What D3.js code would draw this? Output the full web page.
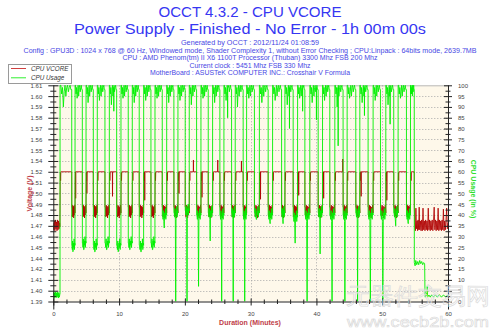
<!DOCTYPE html>
<html>
<head>
<meta charset="utf-8">
<script src="https://cdn.jsdelivr.net/npm/d3@7/dist/d3.min.js"></script>
<style>
  body { margin: 0; background: #ffffff; }
  svg { display: block; }
  text { font-family: "Liberation Sans", Arial, sans-serif; }
</style>
</head>
<body>
<svg id="chart" width="500" height="333"></svg>
<script>
// ---------------- data ----------------
const titleLines = ["OCCT 4.3.2 - CPU VCORE", "Power Supply - Finished - No Error - 1h 00m 00s"];
const infoLines = [
  "Generated by OCCT : 2012/11/24 01:08:59",
  "Config : GPU3D : 1024 x 768 @ 60 Hz, Windowed mode, Shader Complexity 1, without Error Checking ; CPU:Linpack : 64bits mode, 2639.7MB",
  "CPU : AMD Phenom(tm) II X6 1100T Processor (Thuban) 3300 Mhz FSB 200 Mhz",
  "Current clock : 5451 Mhz FSB 330 Mhz",
  "MotherBoard : ASUSTeK COMPUTER INC.: Crosshair V Formula"
];
const seriesNames = ["CPU VCORE", "CPU Usage"];

// voltage axis: 21 evenly spaced ticks between 1.39 V and 1.61 V
const voltTicks = [1.390, 1.401, 1.412, 1.423, 1.434, 1.445, 1.456, 1.467, 1.478, 1.489, 1.500,
                   1.511, 1.522, 1.533, 1.544, 1.555, 1.566, 1.577, 1.588, 1.599, 1.610];
const voltTickLabels = ["1.39", "1.40", "1.41", "1.42", "1.44", "1.45", "1.46", "1.47", "1.48", "1.49", "1.50",
                        "1.51", "1.52", "1.54", "1.55", "1.56", "1.57", "1.58", "1.59", "1.60", "1.61"];
const usageTicks = [0, 5, 10, 15, 20, 25, 30, 35, 40, 45, 50, 55, 60, 65, 70, 75, 80, 85, 90, 95, 100];
const minuteTicks = [0, 10, 20, 30, 40, 50, 60];
const minuteMinorTicks = [2, 4, 6, 8, 12, 14, 16, 18, 22, 24, 26, 28, 32, 34, 36, 38, 42, 44, 46, 48, 52, 54, 56, 58];

// Linpack passes: minute at which full load starts / ends
const cycleRise = [1.02, 3.30, 4.97, 6.68, 8.51, 10.28, 12.00, 13.73, 15.45, 17.23, 18.94, 20.66, 22.44, 24.21, 25.93,
                   27.65, 29.38, 31.32, 33.33, 35.20, 37.13, 38.99, 40.92, 42.79, 44.66, 46.59, 48.61, 50.54, 52.41, 54.29];
const cycleFall = [2.80, 4.41, 6.08, 7.85, 9.63, 11.39, 13.06, 14.84, 16.56, 18.33, 20.05, 21.78, 23.55, 25.32, 27.10,
                   28.86, 30.57, 32.66, 34.70, 36.46, 38.24, 40.26, 42.03, 44.05, 45.98, 47.85, 49.73, 51.75, 53.68, 54.87];
// CPU usage (%) between passes, and the lowest reading of each pause
const pauseUsage = [26, 27, 26, 27, 26, 27, 26, 27, 40, 41, 42, 40, 41, 40, 41, 40, 41, 40, 41, 39, 40, 41, 40, 40, 41, 40, 40, 41, 40];
const pauseUsageMin = [24, 24, 23, 24, 24, 24, 23, 24, 34, 0, 0, 7, 28, 0, 0, 0, 38, 36, 36, 27, 0, 22, 0, 0, 0, 0, 0, 35, 36];
// lowest usage seen while a pass is running
const passUsageDip = [90, 94, 92, 93, 91, 94, 92, 93, 94, 92, 93, 91, 94, 92, 93, 90, 94, 92, 93, 91, 94, 92, 93, 90, 94, 92, 93, 91, 94, 96];
// usage readings during a pass and during a pause (offsets from the pause level)
const passUsageReadings = [100, 96, 99, 97, 100, 95, 99, 100, 97, 99, 100, 98];
const pauseUsageOffsets = [0, -2, 2, -3, 1, -1, 3, -2, 1];
// isolated usage drops during passes [minute, %]
const usageDrops = [[9.2, 88], [26.5, 85], [35.9, 80], [37.9, 88], [40.0, 84], [43.3, 72], [47.3, 86], [51.2, 82]];
// usage at idle before the test and after it
const usageStart = [[0, 2], [0.06, 4.5], [0.12, 1.5], [0.2, 4], [0.28, 2], [0.36, 4.5], [0.44, 1.8], [0.52, 4], [0.6, 2.2],
                    [0.68, 4.4], [0.76, 1.6], [0.84, 4], [0.92, 2], [1.0, 3.5]];
const usageEnd = [[54.88, 18], [55.0, 16.5], [55.1, 19], [55.25, 17], [55.4, 18.5], [55.55, 17], [55.7, 19], [55.85, 17.5],
                  [56.0, 18.5], [56.15, 17], [56.3, 18], [56.45, 17.5], [56.5, 4], [56.55, 2], [56.65, 5], [56.75, 2.5],
                  [56.85, 7], [56.9, 2], [57.1, 3], [57.3, 2], [57.5, 3], [57.8, 2.2], [58.1, 3], [58.4, 2], [58.7, 3.2],
                  [59.0, 2], [59.3, 3], [59.6, 2.2], [60, 2.8]];

// VCORE (V)
const vcorePass = 1.522;
const vcorePassEntry = [1.512, 1.521, 1.513, 1.522];
const vcorePauseReadings = [1.486, 1.476, 1.488, 1.477, 1.487, 1.475, 1.486, 1.478, 1.488];
const vcoreSpikes = [[21.3, 1.534], [25.0, 1.534], [28.6, 1.533], [44.0, 1.535]];
const vcoreDips = [[3.4, 1.495], [5.1, 1.500], [9.0, 1.497], [13.9, 1.493], [19.1, 1.500], [22.6, 1.496], [31.5, 1.494],
                   [37.3, 1.498], [41.1, 1.495], [46.8, 1.497], [50.7, 1.493]];
const vcoreStart = [[0, 1.470], [0.08, 1.463], [0.16, 1.472], [0.24, 1.462], [0.32, 1.473], [0.4, 1.464], [0.48, 1.471],
                    [0.56, 1.462], [0.64, 1.473], [0.72, 1.463], [0.8, 1.472], [0.88, 1.464], [0.96, 1.470], [1.0, 1.466]];
const vcoreEnd = [[54.88, 1.486], [54.95, 1.470], [55.05, 1.462], [55.12, 1.485], [55.2, 1.464], [55.3, 1.472], [55.38, 1.462],
                  [55.45, 1.473], [55.55, 1.463], [55.62, 1.486], [55.7, 1.463], [55.8, 1.472], [55.9, 1.462], [56.0, 1.473],
                  [56.1, 1.462], [56.2, 1.485], [56.3, 1.463], [56.4, 1.472], [56.5, 1.462], [56.6, 1.473], [56.7, 1.463],
                  [56.8, 1.472], [56.9, 1.462], [57.0, 1.485], [57.1, 1.463], [57.2, 1.473], [57.3, 1.462], [57.4, 1.472],
                  [57.5, 1.463], [57.6, 1.473], [57.7, 1.462], [57.8, 1.472], [57.9, 1.486], [58.0, 1.463], [58.1, 1.473],
                  [58.2, 1.462], [58.3, 1.472], [58.4, 1.463], [58.5, 1.485], [58.6, 1.462], [58.7, 1.473], [58.8, 1.463],
                  [58.9, 1.472], [59.0, 1.462], [59.1, 1.473], [59.2, 1.463], [59.3, 1.484], [59.4, 1.462], [59.5, 1.472],
                  [59.6, 1.463], [59.7, 1.473], [59.8, 1.485], [59.9, 1.464], [60, 1.470]];

// ---------------- series assembly ----------------
function spread(t0, t1, vals) {
  return vals.map((v, k) => [t0 + (t1 - t0) * (k + 1) / (vals.length + 1), v]);
}
// a single short excursion away from a steady level
function excursion(t, v, base) {
  return [[t - 0.02, base], [t, v], [t + 0.02, base]];
}

function buildUsage() {
  let pts = usageStart.slice();
  cycleRise.forEach((r, i) => {
    const f = cycleFall[i];
    const prevLevel = i === 0 ? 3.5 : pauseUsage[i - 1];
    pts.push([r, prevLevel], [r + 0.01, 100]);
    const readings = passUsageReadings.slice();
    readings.splice(3, 0, passUsageDip[i]);
    pts = pts.concat(spread(r, f, readings));
    pts.push([f, 98]);
    if (i < pauseUsage.length) {
      const next = cycleRise[i + 1];
      const lvl = pauseUsage[i];
      const vals = pauseUsageOffsets.map(o => lvl + o);
      vals.splice(4, 0, pauseUsageMin[i]);
      pts.push([f + 0.01, lvl]);
      pts = pts.concat(spread(f, next, vals));
    }
  });
  // drop the regular readings that sit right where an isolated drop is drawn
  pts = pts.filter(p => !usageDrops.some(d => Math.abs(p[0] - d[0]) < 0.025));
  usageDrops.forEach(d => { pts = pts.concat(excursion(d[0], d[1], 99)); });
  pts = pts.concat(usageEnd);
  return pts.sort((a, b) => a[0] - b[0]);
}

function buildVcore() {
  let pts = vcoreStart.slice();
  cycleRise.forEach((r, i) => {
    const f = cycleFall[i];
    pts.push([r, 1.480]);
    pts = pts.concat(spread(r, r + 0.15, vcorePassEntry));
    pts.push([r + 0.16, vcorePass], [f, vcorePass]);
    if (i < pauseUsage.length) {
      const next = cycleRise[i + 1];
      pts.push([f + 0.01, 1.486]);
      pts = pts.concat(spread(f, next, vcorePauseReadings));
      pts.push([next - 0.005, 1.482]);
    }
  });
  vcoreSpikes.concat(vcoreDips).forEach(d => { pts = pts.concat(excursion(d[0], d[1], vcorePass)); });
  pts = pts.concat(vcoreEnd);
  return pts.sort((a, b) => a[0] - b[0]);
}

const usageSeries = buildUsage();
const vcoreSeries = buildVcore();

// ---------------- layout ----------------
const svg = d3.select("#chart");
const plot = { left: 53.3, right: 448, top: 85.3, bottom: 301.5 };

const x = d3.scaleLinear().domain([0, 60]).range([plot.left, plot.right]);
const yV = d3.scaleLinear().domain([1.39, 1.61]).range([plot.bottom, plot.top]);
const yU = d3.scaleLinear().domain([0, 100]).range([plot.bottom, plot.top]);

// titles
svg.selectAll("text.title").data(titleLines).join("text")
  .attr("class", "title")
  .attr("x", 250).attr("y", (d, i) => [17.4, 34][i])
  .attr("text-anchor", "middle")
  .attr("font-size", 14.6)
  .attr("fill", "#3636f2")
  .attr("textLength", (d, i) => [183, 352][i])
  .attr("lengthAdjust", "spacingAndGlyphs")
  .text(d => d);

svg.selectAll("text.info").data(infoLines).join("text")
  .attr("class", "info")
  .attr("x", 250).attr("y", (d, i) => 45.3 + i * 7.5)
  .attr("text-anchor", "middle")
  .attr("font-size", 6.8)
  .attr("fill", "#4848e4")
  .attr("textLength", (d, i) => [138, 453, 255, 121, 200][i])
  .attr("lengthAdjust", "spacingAndGlyphs")
  .text(d => d);

// plot background
svg.append("rect")
  .attr("x", plot.left).attr("y", plot.top)
  .attr("width", plot.right - plot.left).attr("height", plot.bottom - plot.top)
  .attr("fill", "#fef8ea");
svg.append("line")
  .attr("x1", plot.left).attr("x2", plot.right)
  .attr("y1", plot.top + 0.5).attr("y2", plot.top + 0.5)
  .attr("stroke", "#b8b8b8").attr("stroke-width", 1);

// grid
const grid = svg.append("g").attr("stroke", "#a8a8a8").attr("stroke-width", 1).attr("stroke-dasharray", "1,2");
grid.selectAll("line.h").data(voltTicks.slice(1, -1)).join("line")
  .attr("x1", plot.left).attr("x2", plot.right)
  .attr("y1", d => Math.round(yV(d)) + 0.5).attr("y2", d => Math.round(yV(d)) + 0.5);
grid.selectAll("line.v").data(minuteTicks.slice(1, -1)).join("line")
  .attr("x1", d => Math.round(x(d)) + 0.5).attr("x2", d => Math.round(x(d)) + 0.5)
  .attr("y1", plot.top).attr("y2", plot.bottom);

// series
svg.append("clipPath").attr("id", "plotclip").append("rect")
  .attr("x", plot.left).attr("y", plot.top - 1)
  .attr("width", plot.right - plot.left).attr("height", plot.bottom - plot.top + 1);

const lineV = d3.line().x(d => x(d[0])).y(d => yV(d[1]));
const lineU = d3.line().x(d => x(d[0])).y(d => yU(d[1]));

svg.append("path").datum(vcoreSeries)
  .attr("clip-path", "url(#plotclip)")
  .attr("fill", "none").attr("stroke", "#b00000").attr("stroke-width", 0.85)
  .attr("d", lineV);
svg.append("path").datum(usageSeries)
  .attr("clip-path", "url(#plotclip)")
  .attr("fill", "none").attr("stroke", "#00f000").attr("stroke-width", 0.9)
  .attr("d", lineU);

// axes
function styleAxis(g) {
  g.select(".domain").attr("stroke", "#222");
  g.selectAll(".tick text").attr("font-size", 6).attr("fill", "#444")
    .attr("font-family", "'Liberation Sans', Arial, sans-serif");
  g.selectAll(".tick line").attr("stroke", "#222");
}

const leftAxis = svg.append("g").attr("transform", `translate(${plot.left},0)`)
  .call(d3.axisLeft(yV).tickValues(voltTicks).tickFormat((d, i) => voltTickLabels[i]).tickSize(5).tickPadding(6));
leftAxis.selectAll(".tick line").attr("x1", 5);
leftAxis.select(".domain").attr("d", `M0.5,${plot.top}V${plot.bottom + 8}`);
const leftMinor = svg.append("g").attr("transform", `translate(${plot.left},0)`)
  .call(d3.axisLeft(yV).tickValues(d3.pairs(voltTicks).map(p => (p[0] + p[1]) / 2)).tickFormat("").tickSize(3));
leftMinor.selectAll(".tick line").attr("x1", 3);
leftMinor.select(".domain").remove();

const rightAxis = svg.append("g").attr("transform", `translate(${plot.right},0)`)
  .call(d3.axisRight(yU).tickValues(usageTicks).tickSize(4).tickPadding(6));
rightAxis.selectAll(".tick line").attr("x1", -4);
rightAxis.select(".domain").attr("d", `M0.5,${plot.top}V${plot.bottom + 8}`);
const rightMinor = svg.append("g").attr("transform", `translate(${plot.right},0)`)
  .call(d3.axisRight(yU).tickValues(d3.pairs(usageTicks).map(p => (p[0] + p[1]) / 2)).tickFormat("").tickSize(2.5));
rightMinor.selectAll(".tick line").attr("x1", -2.5);
rightMinor.select(".domain").remove();

const bottomAxis = svg.append("g").attr("transform", `translate(0,${plot.bottom})`)
  .call(d3.axisBottom(x).tickValues(minuteTicks).tickSize(4).tickPadding(6));
bottomAxis.selectAll(".tick line").attr("y1", -3);
bottomAxis.select(".domain").attr("d", `M${plot.left},0.5H${plot.right}`);
const bottomMinor = svg.append("g").attr("transform", `translate(0,${plot.bottom})`)
  .call(d3.axisBottom(x).tickValues(minuteMinorTicks).tickFormat("").tickSize(2.5));
bottomMinor.selectAll(".tick line").attr("y1", -2);
bottomMinor.select(".domain").remove();

[leftAxis, leftMinor, rightAxis, rightMinor, bottomAxis, bottomMinor].forEach(styleAxis);

// axis titles
svg.append("text")
  .attr("transform", "translate(31.5,193.5) rotate(-90)")
  .attr("text-anchor", "middle").attr("font-size", 7).attr("font-weight", "bold")
  .attr("fill", "#c04048").text("Voltage (V)");
svg.append("text")
  .attr("transform", "translate(471,189) rotate(90)")
  .attr("text-anchor", "middle").attr("font-size", 7).attr("font-weight", "bold")
  .attr("fill", "#30e030").text("CPU Usage (in %)");
svg.append("text")
  .attr("x", 250).attr("y", 325)
  .attr("text-anchor", "middle").attr("font-size", 7).attr("font-weight", "bold")
  .attr("fill", "#c04048").text("Duration (Minutes)");

// legend
const legend = svg.append("g");
legend.append("rect").attr("x", 8.5).attr("y", 64.5).attr("width", 63).attr("height", 19)
  .attr("fill", "#ffffff").attr("stroke", "#9a9a9a");
const legendColors = ["#d04040", "#30f030"];
seriesNames.forEach((name, i) => {
  const yy = 68.5 + i * 9.3;
  legend.append("line").attr("x1", 11).attr("x2", 26).attr("y1", yy).attr("y2", yy)
    .attr("stroke", legendColors[i]).attr("stroke-width", 1);
  legend.append("text").attr("x", 31).attr("y", yy + 2.2)
    .attr("font-size", 6.3).attr("font-style", "italic").attr("fill", "#333").text(name);
});

// site watermark
const wm = svg.append("g");
wm.append("text").attr("x", 346).attr("y", 304)
  .attr("font-family", "'Noto Sans CJK SC', sans-serif").attr("font-size", 23)
  .attr("fill", "none").attr("stroke", "#dcdcdc").attr("stroke-width", 0.7)
  .attr("textLength", 144).attr("lengthAdjust", "spacingAndGlyphs")
  .text("元器件交易网");
wm.append("text").attr("x", 347).attr("y", 326.5)
  .attr("font-size", 15)
  .attr("fill", "none").attr("stroke", "#d8d8d8").attr("stroke-width", 0.6)
  .attr("textLength", 142).attr("lengthAdjust", "spacingAndGlyphs")
  .text("www.cecb2b.com");
</script>
</body>
</html>
